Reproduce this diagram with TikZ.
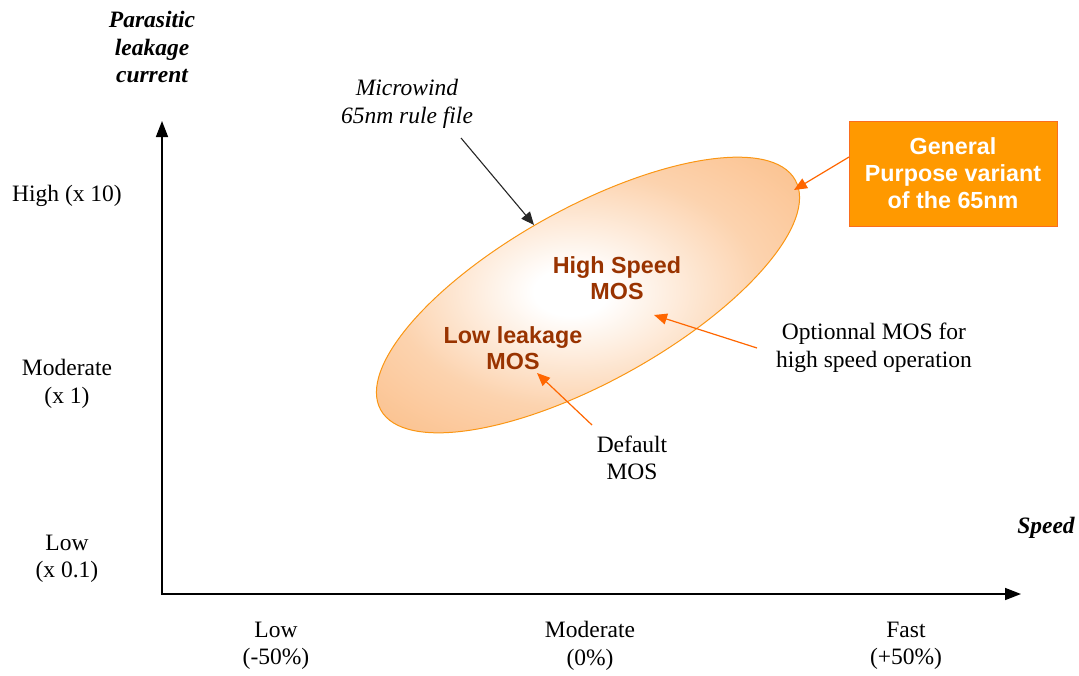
\documentclass[tikz,border=0pt]{standalone}
\usepackage{fontspec}
\setmainfont{Liberation Serif}
\setsansfont{Liberation Sans}
\usetikzlibrary{shapes.geometric,arrows.meta}
\definecolor{ellfill}{RGB}{251,192,140}
\definecolor{ellborder}{RGB}{250,150,20}
\definecolor{boxfill}{RGB}{255,153,0}
\definecolor{boxborder}{RGB}{250,110,30}
\definecolor{arrorange}{RGB}{255,102,0}
\definecolor{mosbrown}{RGB}{153,51,0}
\pgfdeclareradialshading{ellshade}{\pgfpoint{-2bp}{-1bp}}{color(0bp)=(white); color(4bp)=(white); color(20bp)=(ellfill!70!white); color(33bp)=(ellfill); color(50bp)=(ellfill)}
\tikzset{
  lbl/.style={font=\fontsize{23.5}{27.5}\selectfont, align=center, inner sep=1pt},
  axlbl/.style={lbl, font=\fontsize{23.5}{27.5}\selectfont\bfseries\itshape},
  moslbl/.style={lbl, font=\fontsize{23.3}{26.5}\selectfont\sffamily\bfseries, text=mosbrown},
  axis/.style={line width=1.6pt, -{Triangle[length=16pt,width=12pt]}},
  oarrow/.style={draw=arrorange, line width=1.2pt, -{Triangle[length=13pt,width=11pt]}},
  karrow/.style={draw=black!85, line width=1.1pt, -{Triangle[length=13pt,width=11pt]}},
}
\begin{document}
\begin{tikzpicture}[x=1pt,y=-1pt]
\useasboundingbox (0,0) rectangle (1079,675);
% axes
\coordinate (O) at (162,594);
\coordinate (ytop) at (162,121);
\coordinate (xend) at (1021,594);
\draw[axis] (O) -- (ytop);
\draw[axis] ([xshift=-0.8pt]O) -- (xend);
% axis labels
\node[axlbl] (ylab) at (152,47) {Parasitic\\leakage\\current};
\node[axlbl] (speed) at (1046,528) {Speed};
\node[lbl] (yhigh) at (67,196) {High (x 10)};
\node[lbl] (ymod) at (67,384) {Moderate\\(x 1)};
\node[lbl] (ylow) at (67,559) {Low\\(x 0.1)};
\node[lbl] (xlow) at (276,646) {Low\\(-50\%)};
\node[lbl] (xmod) at (590,646) {Moderate\\(0\%)};
\node[lbl] (xfast) at (906,646) {Fast\\(+50\%)};
% ellipse
\node[ellipse, draw=ellborder, line width=1pt, shading=ellshade, rotate=29,
      minimum width=474pt, minimum height=174pt, inner sep=0pt] (ell) at (588,295) {};
% texts
\node[moslbl] (hs) at (617,278) {High Speed\\MOS};
\node[moslbl] (ll) at (513,348) {Low leakage\\MOS};
\node[lbl, font=\fontsize{23.5}{27.5}\selectfont\itshape] (micro) at (407,104) {Microwind\\65nm rule file};
\node[lbl] (opt) at (874,348) {Optionnal MOS for\\high speed operation};
\node[lbl] (def) at (632,458) {Default\\MOS};
\node[draw=boxborder, line width=1pt, fill=boxfill, minimum width=208pt, minimum height=105pt,
      align=center, text=white, font=\fontsize{23.3}{27}\selectfont\sffamily\bfseries] (box) at (953,173.5)
      {General\\Purpose variant\\of the 65nm};
% connector end points
\coordinate (microS) at (461,138);
\coordinate (ellTop) at (534,225);
\coordinate (boxS) at (849,157);
\coordinate (ellRight) at (794,190);
\coordinate (optS) at (757,348);
\coordinate (hsT) at (654,315);
\coordinate (defS) at (592,425);
\coordinate (llT) at (537,373);
% connectors
\draw[karrow] (microS) -- (ellTop);
\draw[oarrow] (boxS) -- (ellRight);
\draw[oarrow] (optS) -- (hsT);
\draw[oarrow] (defS) -- (llT);
\end{tikzpicture}
\end{document}
